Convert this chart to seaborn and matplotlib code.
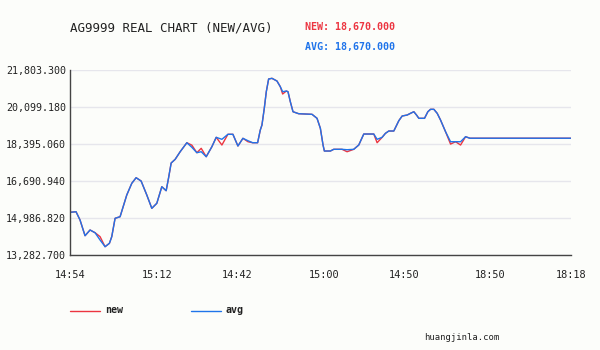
import matplotlib
matplotlib.use("Agg")
import matplotlib.pyplot as plt
import pandas as pd
import seaborn as sns
from matplotlib.lines import Line2D
from matplotlib.ticker import FuncFormatter

# Dados (posição no eixo x e preço médio).
idx = [0, 3.6, 6, 9, 12, 15, 18, 21, 23.6, 25, 27, 30, 34, 37, 39.6, 42.6, 46, 49,
       52, 55, 57.6, 59, 60.6, 63, 66, 70, 73, 76, 78.6, 81.6, 85, 87.6, 91, 94.6,
       97.6, 100.6, 103.6, 106.6, 109.4, 112.4, 114, 115, 116.4, 117.6, 119, 121,
       124, 126, 127.4, 129.6, 130.6, 132, 133.6, 137, 145, 148, 150, 151.6, 152.4,
       156, 158, 163, 166, 170, 173, 176, 182, 184, 187, 189, 191, 194, 197, 199,
       202, 204, 206, 207.6, 209, 212.4, 214.4, 216, 218, 220, 222, 225, 228, 231,
       234, 237, 239.6, 300]
avg = [15252, 15280, 14897, 14173, 14436, 14311, 13975, 13666, 13822, 14127, 14976,
       15050, 16051, 16590, 16849, 16696, 16051, 15437, 15668, 16433, 16249, 16821,
       17527, 17697, 18048, 18463, 18251, 18002, 18048, 17817, 18279, 18712, 18620,
       18851, 18851, 18311, 18666, 18556, 18463, 18463, 19049, 19280, 20050, 20816,
       21402, 21434, 21309, 21046, 20816, 20848, 20816, 20354, 19893, 19801, 19773,
       19589, 19127, 18357, 18080, 18080, 18159, 18159, 18140, 18159, 18357, 18864,
       18864, 18620, 18712, 18897, 19003, 19003, 19478, 19695, 19741, 19819, 19893,
       19741, 19589, 19589, 19893, 20004, 20004, 19819, 19510, 18971, 18509, 18509,
       18509, 18740, 18670, 18670]
# O preço "new" só se afasta da média em alguns pontos.
new_desvios = {6: 14130, 26: 18350, 28: 18205, 32: 18357, 37: 18509, 48: 20710,
               62: 18047, 67: 18463, 86: 18400, 88: 18357}
new = [new_desvios.get(i, v) for i, v in enumerate(avg)]

y_ticks = [13282.700, 14986.820, 16690.940, 18395.060, 20099.180, 21803.300]
x_ticks = [0, 52, 100, 152, 200, 252, 300]
x_labels = ["14:54", "15:12", "14:42", "15:00", "14:50", "18:50", "18:18"]

VERMELHO = "#ec3540"
AZUL = "#1f74ea"
TEXTO = "#222222"
FUNDO = "#fcfdfa"

sns.set_style("white")
plt.rcParams["font.family"] = ["DejaVu Sans Mono"]

df = pd.concat([
    pd.DataFrame({"idx": idx, "valor": new, "serie": "new"}),
    pd.DataFrame({"idx": idx, "valor": avg, "serie": "avg"}),
])

fig = plt.figure(figsize=(6, 3.5), dpi=100, facecolor=FUNDO)
ax = fig.add_axes([0.1167, 0.2714, 0.8345, 0.5277])
ax.set_facecolor(FUNDO)

sns.lineplot(data=df, x="idx", y="valor", hue="serie", hue_order=["new", "avg"],
             palette={"new": VERMELHO, "avg": AZUL}, linewidth=1.0,
             legend=False, ax=ax)

ax.set_xlim(0, 300)
ax.set_ylim(y_ticks[0], y_ticks[-1])
ax.set_yticks(y_ticks)
ax.yaxis.set_major_formatter(FuncFormatter(lambda v, p: f"{v:,.3f}"))
ax.set_xticks(x_ticks)
ax.set_xticklabels(x_labels)
ax.set_xlabel("")
ax.set_ylabel("")
ax.grid(axis="y", color="#e6e6ec", linewidth=1)
ax.set_axisbelow(True)
for lado in ["top", "right"]:
    ax.spines[lado].set_visible(False)
for lado in ["left", "bottom"]:
    ax.spines[lado].set_color("#444444")
    ax.spines[lado].set_linewidth(1)
ax.tick_params(axis="x", length=3, width=1, color="#444444", pad=8,
               labelsize=7.4, labelcolor=TEXTO, direction="out")
ax.tick_params(axis="y", length=0, pad=3, labelsize=7.2, labelcolor=TEXTO)

# Título e valores atuais
fig.text(70 / 600, 1 - 28 / 350, "AG9999 REAL CHART (NEW/AVG)", fontsize=9,
         color=TEXTO, va="center", ha="left")
fig.text(305 / 600, 1 - 27 / 350, "NEW: 18,670.000", fontsize=7.2,
         fontweight="bold", color=VERMELHO, va="center", ha="left")
fig.text(305 / 600, 1 - 47 / 350, "AVG: 18,670.000", fontsize=7.2,
         fontweight="bold", color=AZUL, va="center", ha="left")

# Legenda desenhada à mão, como no original
for x0, cor, nome in [(70, VERMELHO, "new"), (191, AZUL, "avg")]:
    fig.add_artist(Line2D([x0 / 600, (x0 + 30) / 600], [1 - 311 / 350] * 2,
                          color=cor, linewidth=1, transform=fig.transFigure))
    fig.text((x0 + 35) / 600, 1 - 310 / 350, nome, fontsize=7.2,
             fontweight="bold", color=TEXTO, va="center", ha="left")

fig.text(499 / 600, 1 - 337 / 350, "huangjinla.com", fontsize=6.4,
         color=TEXTO, va="center", ha="right")

fig.savefig("out.png", dpi=100, facecolor=FUNDO)
plt.close(fig)
